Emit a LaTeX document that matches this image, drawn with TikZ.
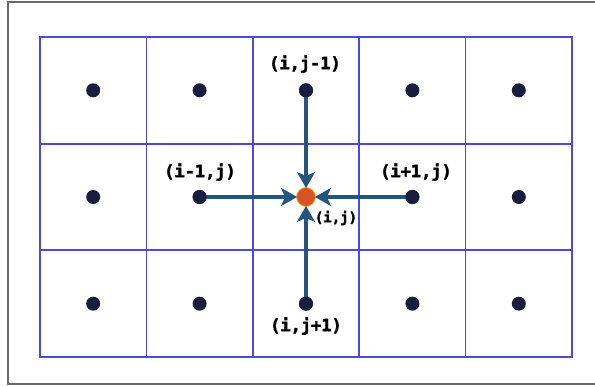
\documentclass[tikz,border=0pt]{standalone}
\usepackage{fontspec}
\newfontfamily\labfont{DejaVu Sans Mono}[BoldFeatures={FakeBold=2.2}]
\usetikzlibrary{arrows.meta}
\definecolor{figframe}{RGB}{105,105,105}
\definecolor{figgrid}{RGB}{75,75,215}
\definecolor{figdot}{RGB}{25,30,62}
\definecolor{figarrow}{RGB}{35,85,125}
\definecolor{figcenter}{RGB}{218,82,36}
\definecolor{figrim}{RGB}{235,190,60}
\tikzset{
  frm/.style ={draw=figframe, line width=1.8pt},
  grd/.style ={draw=figgrid, line width=1.7pt},
  pt/.style  ={circle, fill=figdot, inner sep=0pt, minimum size=14pt},
  ctr/.style ={circle, fill=figcenter, draw=figrim, line width=0.8pt, inner sep=0pt, minimum size=19pt},
  lab/.style ={font=\labfont\bfseries\fontsize{17}{17}\selectfont, inner sep=1pt},
  labs/.style={font=\labfont\bfseries\fontsize{14}{14}\selectfont, inner sep=1pt},
  flw/.style ={draw=figarrow, line width=3.2pt, shorten >=-1pt, -{Stealth[length=16pt,width=18pt,inset=4pt]}},
}
\begin{document}
\begin{tikzpicture}[x=1pt,y=-1pt]
  \useasboundingbox (0,0) rectangle (595,387);
  \clip (0,0) rectangle (595,387);
  \fill[white] (0,0) rectangle (595,387);
  % outer frame
  \draw[frm] (8,2) rectangle (604,384);
  % grid
  \draw[grd] (40,37) rectangle (572,357);
  \draw[grd] (146.4,37) -- (146.4,357);
  \draw[grd] (252.8,37) -- (252.8,357);
  \draw[grd] (359.2,37) -- (359.2,357);
  \draw[grd] (465.6,37) -- (465.6,357);
  \draw[grd] (40,143.7) -- (572,143.7);
  \draw[grd] (40,250.3) -- (572,250.3);
  % cell centres
  \node[pt] (d11) at (93.2,90.3) {};
  \node[pt] (d12) at (199.6,90.3) {};
  \node[pt] (d13) at (306,90.3) {};
  \node[pt] (d14) at (412.4,90.3) {};
  \node[pt] (d15) at (518.8,90.3) {};
  \node[pt] (d21) at (93.2,197) {};
  \node[pt] (d22) at (199.6,197) {};
  \node[pt] (d24) at (412.4,197) {};
  \node[pt] (d25) at (518.8,197) {};
  \node[pt] (d31) at (93.2,303.7) {};
  \node[pt] (d32) at (199.6,303.7) {};
  \node[pt] (d33) at (306,303.7) {};
  \node[pt] (d34) at (412.4,303.7) {};
  \node[pt] (d35) at (518.8,303.7) {};
  \node[ctr] (c) at (306,197) {};
  % fluxes into the centre
  \draw[flw] (d13.center) -- (c);
  \draw[flw] (d22.center) -- (c);
  \draw[flw] (d24.center) -- (c);
  \draw[flw] (d33.center) -- (c);
  \node[pt] at (d13) {};
  \node[pt] at (d22) {};
  \node[pt] at (d24) {};
  \node[pt] at (d33) {};
  % labels
  \node[lab] (ltop) at (305,64) {(i,j-1)};
  \node[lab] (llft) at (200,172) {(i-1,j)};
  \node[lab] (lrgt) at (416,172) {(i+1,j)};
  \node[labs] (lctr) at (336,218) {(i,j)};
  \node[lab] (lbot) at (306,326) {(i,j+1)};
\end{tikzpicture}
\end{document}
